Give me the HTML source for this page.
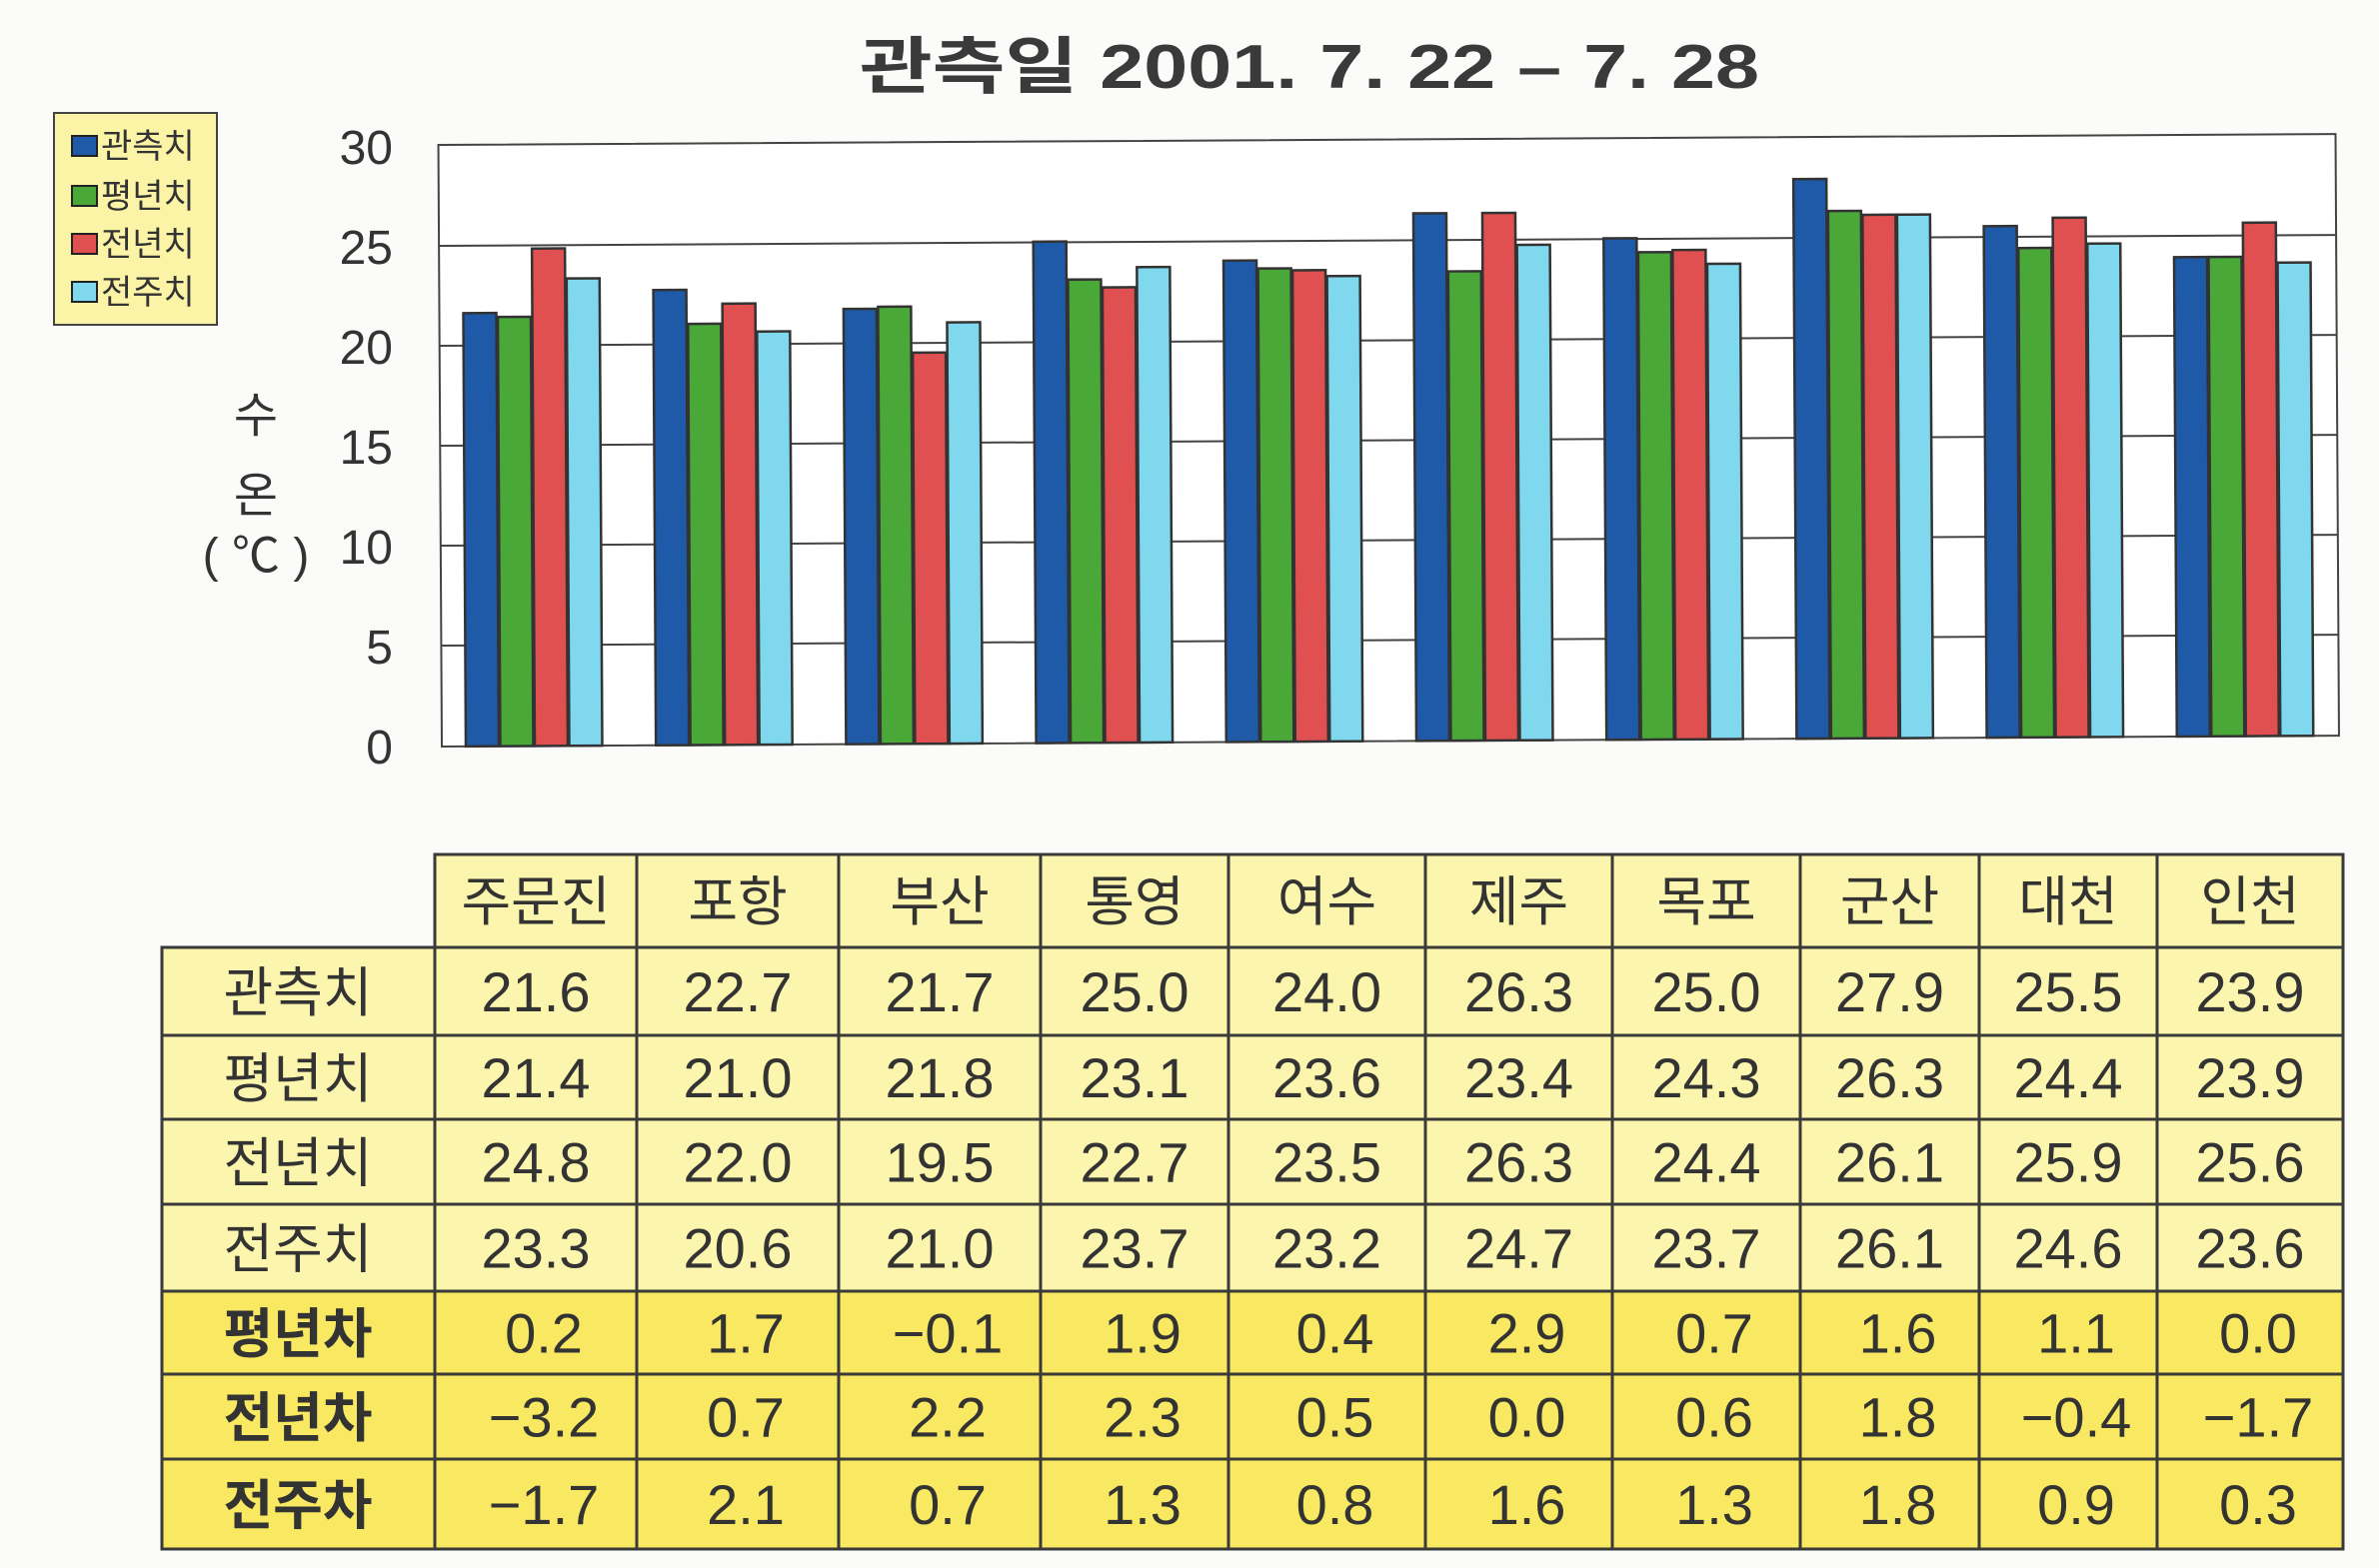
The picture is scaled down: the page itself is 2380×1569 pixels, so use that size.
<!DOCTYPE html>
<html><head><meta charset="utf-8"><style>
html,body{margin:0;padding:0;background:#fbfbf9;}
svg{display:block;font-family:"Liberation Sans","Noto Sans CJK KR",sans-serif;}
</style></head><body>
<svg width="2380" height="1569" viewBox="0 0 2380 1569" xmlns="http://www.w3.org/2000/svg">
<rect width="2380" height="1569" fill="#fbfbf9"/>
<text x="860" y="88" font-size="62" font-weight="bold" fill="#3a3a3a" textLength="900" lengthAdjust="spacingAndGlyphs">관측일 2001. 7. 22 – 7. 28</text>
<!-- legend -->
<rect x="54" y="113" width="163" height="212" fill="#fbf3a6" stroke="#444" stroke-width="2"/>
<g stroke="#222" stroke-width="2">
<rect x="72" y="136" width="25" height="20" fill="#1f5aa8"/>
<rect x="72" y="186" width="25" height="20" fill="#4aa838"/>
<rect x="72" y="234" width="25" height="20" fill="#e05050"/>
<rect x="72" y="282" width="25" height="20" fill="#7fd8ee"/>
</g>
<g font-size="34" fill="#333">
<text x="101" y="158">관측치</text><text x="101" y="208">평년치</text>
<text x="101" y="256">전년치</text><text x="101" y="304">전주치</text>
</g>
<!-- axis labels -->
<g font-size="48" fill="#333" text-anchor="end">
<text x="393" y="164">30</text><text x="393" y="264">25</text><text x="393" y="364">20</text>
<text x="393" y="464">15</text><text x="393" y="564">10</text><text x="393" y="664">5</text><text x="393" y="764">0</text>
</g>
<g font-size="48" fill="#333" text-anchor="middle">
<text x="256" y="432">수</text><text x="256" y="512">온</text><text x="256" y="572">( ℃ )</text>
</g>
<g transform="rotate(-0.33 442 747)">
<rect x="442" y="145" width="1898" height="602" fill="#fff" stroke="#444" stroke-width="2"/>
<g stroke="#444" stroke-width="2">
<line x1="442" y1="246" x2="2340" y2="246"/><line x1="442" y1="346" x2="2340" y2="346"/>
<line x1="442" y1="446" x2="2340" y2="446"/><line x1="442" y1="546" x2="2340" y2="546"/>
<line x1="442" y1="646" x2="2340" y2="646"/>
</g>
<g id="bars" stroke="#333" stroke-width="2.5"></g>
</g>
<!-- table -->
<g id="tbl"></g>
</svg>
<script>
const obs=[21.6,22.7,21.7,25.0,24.0,26.3,25.0,27.9,25.5,23.9],
nor=[21.4,21.0,21.8,23.1,23.6,23.4,24.3,26.3,24.4,23.9],
prv=[24.8,22.0,19.5,22.7,23.5,26.3,24.4,26.1,25.9,25.6],
wk=[23.3,20.6,21.0,23.7,23.2,24.7,23.7,26.1,24.6,23.6];
const cols=['#1f5aa8','#4aa838','#e05050','#7fd8ee'];
const ser=[obs,nor,prv,wk];
let s='';
for(let g=0;g<10;g++){for(let k=0;k<4;k++){const v=ser[k][g];const x=466+g*190.2+k*34.5;const h=v*20.07;
s+=`<rect x="${x}" y="${747-h}" width="33" height="${h}" fill="${cols[k]}"/>`;}}
document.getElementById('bars').innerHTML=s;
const cx=[435,637,839,1041,1229,1426,1613,1801,1980,2158,2344];
const ry=[855,948,1036,1120,1205,1292,1375,1460,1550];
const names=['주문진','포항','부산','통영','여수','제주','목포','군산','대천','인천'];
const labels=['관측치','평년치','전년치','전주치','평년차','전년차','전주차'];
const d1=[0.2,1.7,-0.1,1.9,0.4,2.9,0.7,1.6,1.1,0.0],d2=[-3.2,0.7,2.2,2.3,0.5,0.0,0.6,1.8,-0.4,-1.7],d3=[-1.7,2.1,0.7,1.3,0.8,1.6,1.3,1.8,0.9,0.3];
const rows=[obs,nor,prv,wk,d1,d2,d3];
let t=`<rect x="435" y="855" width="1909" height="93" fill="#fcf5ae"/>`;
for(let r=0;r<7;r++){const y0=ry[r+1],y1=ry[r+2];const fill=r<4?'#fcf5ae':'#f9e862';
t+=`<rect x="162" y="${y0}" width="2182" height="${y1-y0}" fill="${fill}"/>`;}
t+=`<g stroke="#3a3a3a" stroke-width="3" fill="none">`;
t+=`<rect x="435" y="855" width="1909" height="93"/><rect x="162" y="948" width="2182" height="602"/>`;
for(let i=1;i<8;i++)t+=`<line x1="${i==1?435:162}" y1="${ry[i]}" x2="2344" y2="${ry[i]}"/>`;
for(let i=0;i<10;i++)t+=`<line x1="${cx[i]}" y1="855" x2="${cx[i]}" y2="1550"/>`;
t+=`</g>`;
t+=`<g font-size="54" fill="#333" text-anchor="middle">`;
for(let i=0;i<10;i++)t+=`<text x="${(cx[i]+cx[i+1])/2}" y="${ry[0]+66}">${names[i]}</text>`;
for(let r=0;r<7;r++){const yc=(ry[r+1]+ry[r+2])/2+20;
t+=`<text x="298" y="${yc}" ${r>=4?'font-weight="bold"':''}>${labels[r]}</text>`;
for(let i=0;i<10;i++){const v=rows[r][i];const str=(v<0?'−':'')+Math.abs(v).toFixed(1);
t+=`<text x="${(cx[i]+cx[i+1])/2+(r>=4?8:0)}" y="${yc}" font-size="56">${str}</text>`;}}
t+=`</g>`;
document.getElementById('tbl').innerHTML=t;
</script>
</body></html>
